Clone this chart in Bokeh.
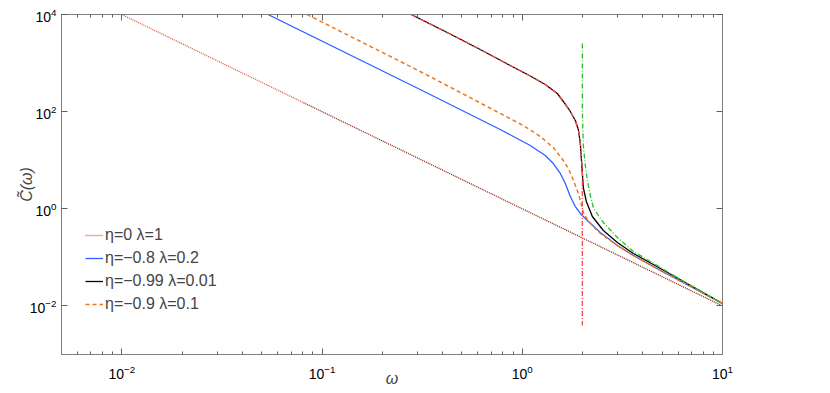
from bokeh.plotting import figure
from bokeh.models import LogAxis, FixedTicker, Legend, LegendItem
from bokeh.embed import file_html
from bokeh.resources import INLINE

# ---- data ----
w_eta0 = [0.01, 10.0]
c_eta0 = [1e4, 0.01]

# dark dotted overlay on the 1/w^2 line (lower part)
w_asym = [0.08, 10.0]
c_asym = [156.25, 0.01]

w_blue = [0.0537, 0.309, 0.6166, 0.7762, 0.9226, 1.0965, 1.3032, 1.4289, 1.5488, 1.6406,
          1.7378, 1.8408, 1.9498, 2.1135, 2.4547, 2.9854, 3.5892, 4.8978, 10.0]
c_blue = [1e4, 285.8, 68.9, 42.9, 29.4, 20.1, 12.5, 8.55, 5.33, 3.32,
          1.79, 1.114, 0.800, 0.574, 0.325, 0.1754, 0.1091, 0.0536, 0.01122]

w_black = [0.2786, 0.4365, 0.6166, 0.871, 1.0965, 1.3032, 1.4962, 1.6032, 1.7378, 1.8408,
           1.9055, 1.9498, 1.9837, 2.0184, 2.0893, 2.2387, 2.5410, 2.9854, 3.5892, 4.8978, 10.0]
c_black = [1e4, 3967, 1903, 891, 542, 362, 236.5, 161.8, 100.7, 65.7,
           42.9, 22.1, 7.78, 2.74, 1.413, 0.693, 0.357, 0.202, 0.120, 0.0590, 0.01122]

w_orange = [0.08414, 0.309, 0.6383, 1.0116, 1.2303, 1.4289, 1.6032, 1.6982, 1.7783, 1.8836,
            1.9498, 2.0184, 2.1135, 2.1878, 2.4547, 2.9854, 3.5892, 4.8978, 10.0]
c_orange = [1e4, 670.8, 140.3, 51.9, 30.8, 18.27, 9.86, 6.75, 4.41, 2.38,
            1.48, 0.839, 0.602, 0.498, 0.310, 0.1754, 0.1091, 0.0536, 0.01122]

w_red = [0.2786, 0.4365, 0.6166, 0.871, 1.0965, 1.3032, 1.4962, 1.6032, 1.7378, 1.8408,
         1.9055, 1.9498, 1.9953, 1.9953]
c_red = [1e4, 3967, 1903, 891, 542, 362, 236.5, 161.8, 100.7, 65.7,
         42.9, 22.1, 6.14, 0.003954]

w_green = [1.9953, 1.9953, 2.0184, 2.0654, 2.1135, 2.1878, 2.2646, 2.3988, 2.5410, 2.9854,
           3.5892, 4.3652, 6.166, 10.0]
c_green = [2529, 105.6, 20.1, 7.78, 3.82, 1.88, 1.064, 0.728, 0.522, 0.256,
           0.132, 0.0822, 0.035, 0.01122]

labels = ["η=0 λ=1", "η=−0.8 λ=0.2", "η=−0.99 λ=0.01", "η=−0.9 λ=0.1"]

x_major = [0.01, 0.1, 1.0, 10.0]
x_minor = [k * 10.0 ** e for e in (-3, -2, -1, 0) for k in range(2, 10)]
y_major = [1e-2, 1.0, 1e2, 1e4]

FRAME = "#808080"

p = figure(frame_width=661, frame_height=340, x_axis_type="log", y_axis_type="log",
           x_range=(0.005, 10), y_range=(1e-3, 1e4),
           output_backend="svg", toolbar_location=None,
           min_border_left=61, min_border_right=100, min_border_top=14, min_border_bottom=38)
p.grid.visible = False
p.outline_line_color = FRAME
p.background_fill_color = "white"
p.border_fill_color = "white"

xt = FixedTicker(ticks=x_major, minor_ticks=x_minor)
yt = FixedTicker(ticks=y_major, minor_ticks=[])

def style(ax, show_labels):
    ax.axis_line_color = FRAME
    ax.major_tick_line_color = "#606060"
    ax.minor_tick_line_color = "#606060"
    ax.major_tick_in = 6
    ax.major_tick_out = 0
    ax.minor_tick_in = 3
    ax.minor_tick_out = 0
    if show_labels:
        ax.major_label_text_font = "Liberation Sans"
        ax.major_label_text_font_size = "14px"
        ax.major_label_text_color = "black"
    else:
        ax.major_label_text_font_size = "0px"
        ax.major_label_text_color = None
        ax.major_label_standoff = 0

p.xaxis.ticker = xt
p.yaxis.ticker = yt
style(p.xaxis[0], True)
style(p.yaxis[0], True)
p.xaxis.major_label_standoff = 10
p.yaxis.major_label_standoff = 5
p.xaxis.axis_label = "ω"
p.yaxis.axis_label = "C̃(ω)"
for ax in (p.xaxis[0], p.yaxis[0]):
    ax.axis_label_text_font = "Liberation Sans"
    ax.axis_label_text_font_size = "16px"
    ax.axis_label_text_font_style = "italic"
p.xaxis.axis_label_standoff = -12
p.yaxis.axis_label_standoff = -8

top = LogAxis(ticker=xt)
style(top, False)
p.add_layout(top, "above")
right = LogAxis(ticker=yt)
style(right, False)
p.add_layout(right, "right")

r0 = p.line(w_eta0, c_eta0, line_color="#d85a48", line_width=1.3, line_dash="1 1")
p.line(w_asym, c_asym, line_color="#3a1a14", line_alpha=0.5, line_width=1.1,
       line_dash="1 1", line_dash_offset=1)
r1 = p.line(w_blue, c_blue, line_color="#3060ff", line_width=1.3)
r2 = p.line(w_black, c_black, line_color="black", line_width=1.3)
r3 = p.line(w_orange, c_orange, line_color="#f07818", line_width=1.5, line_dash="4 3")
p.line(w_red, c_red, line_color="#ff4848", line_width=1.3, line_dash="5 2 1 2")
p.line(w_green, c_green, line_color="#2cbf2c", line_width=1.3, line_dash="5 2 1 2")

legend = Legend(items=[LegendItem(label=labels[0], renderers=[r0]),
                       LegendItem(label=labels[1], renderers=[r1]),
                       LegendItem(label=labels[2], renderers=[r2]),
                       LegendItem(label=labels[3], renderers=[r3])],
                location=(24, 40), padding=0, margin=0, spacing=3,
                glyph_width=18, glyph_height=20, label_height=20, label_standoff=2,
                label_text_font="Liberation Sans", label_text_font_size="16px",
                background_fill_alpha=0, border_line_color=None)
p.add_layout(legend, "center")

open("out.html", "w").write(file_html(p, INLINE))
